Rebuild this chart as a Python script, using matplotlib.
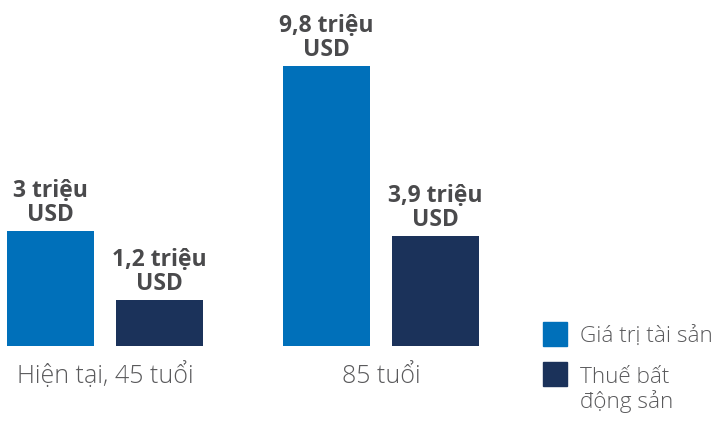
import matplotlib.pyplot as plt
from matplotlib.patches import Rectangle

groups = ["Hiện tại, 45 tuổi", "85 tuổi"]
series = ["Giá trị tài sản", "Thuế bất\nđộng sản"]
colors = ["#0070BA", "#1B325A"]

# value labels as printed on the chart
asset_labels = ["3 triệu\nUSD", "9,8 triệu\nUSD"]
tax_labels = ["1,2 triệu\nUSD", "3,9 triệu\nUSD"]
# bar heights as drawn in the picture (not to scale with the labels)
asset_heights = [3.0, 7.3]
tax_heights = [1.2, 2.87]

plt.rcParams["font.family"] = ["Open Sans", "DejaVu Sans"]

W, H = 715, 421
fig = plt.figure(figsize=(W / 100, H / 100), dpi=100)
base_px = 346
ax = fig.add_axes([0, (H - base_px) / H, 1, base_px / H])

unit_px = 87
y_unit = 115 / 3.0
ax.set_xlim(-50.5 / unit_px, (W - 50.5) / unit_px)
ax.set_ylim(0, base_px / y_unit)
ax.axis("off")

group_x = [0.626, 3.80]
offset = 0.626
asset_x = [g - offset for g in group_x]
tax_x = [g + offset for g in group_x]

b1 = ax.bar(asset_x, asset_heights, width=1.0, color=colors[0])
b2 = ax.bar(tax_x, tax_heights, width=1.0, color=colors[1])

for bars, labels in [(b1, asset_labels), (b2, tax_labels)]:
    for bar, lab in zip(bars, labels):
        ax.annotate(lab, xy=(bar.get_x() + bar.get_width() / 2, bar.get_height()),
                    xytext=(0, 3), textcoords="offset points", ha="center", va="bottom",
                    fontsize=16.5, fontweight="bold", color="#4A4A4C", linespacing=1.0)

for gx, name in zip(group_x, groups):
    ax.annotate(name, xy=(gx, 0), xytext=(0, -26.6), textcoords="offset points",
                ha="center", va="baseline", fontsize=18, fontweight="light", color="#5A5A5C",
                annotation_clip=False)

# legend drawn by hand
legend_rows = [(322, [343]), (362, [383, 408])]
for (top, baselines), name, c in zip(legend_rows, series, colors):
    fig.add_artist(Rectangle((543 / W, (H - top - 24) / H), 24 / W, 24 / H,
                             transform=fig.transFigure, color=c))
    for base, line in zip(baselines, name.split("\n")):
        fig.text(580 / W, (H - base) / H, line, ha="left", va="baseline",
                 fontsize=16.2, fontweight="light", color="#5A5A5C")

fig.savefig("out.png", dpi=100)
